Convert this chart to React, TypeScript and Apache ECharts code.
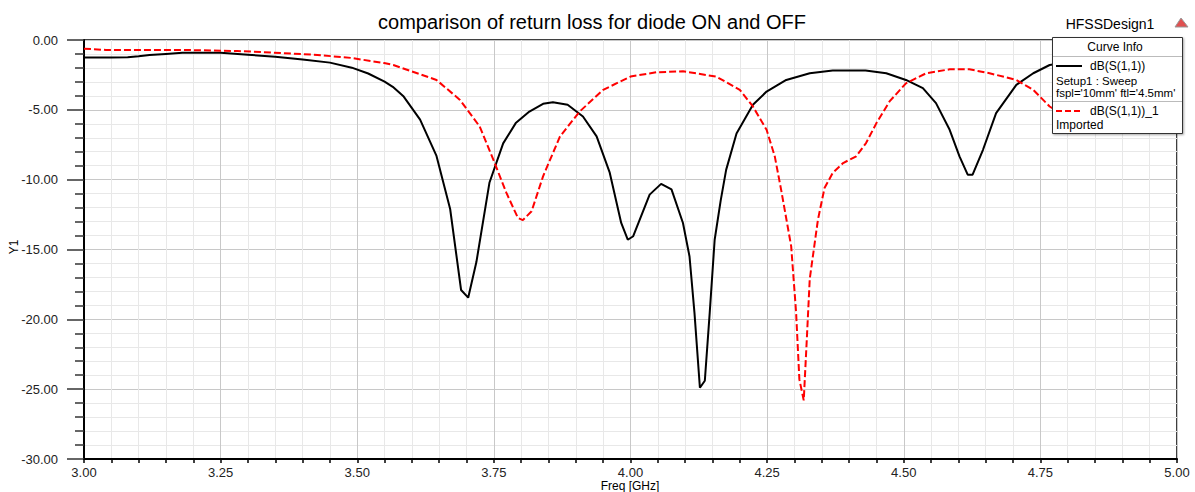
import React, { useEffect, useRef } from "react";
import * as echarts from "echarts";

const TITLE = "comparison of return loss for diode ON and OFF";
const X_NAME = "Freq [GHz]";
const Y_NAME = "Y1";

// Diode ON: dB(S(1,1)), Setup1 : Sweep
const onFreq = [
  3.0, 3.05, 3.08, 3.1, 3.12, 3.15, 3.18, 3.25, 3.3, 3.35, 3.4, 3.45, 3.49, 3.52, 3.55, 3.565, 3.585,
  3.615, 3.645, 3.67, 3.69, 3.703, 3.718, 3.742, 3.767, 3.79, 3.815, 3.84, 3.858, 3.885, 3.913,
  3.938, 3.962, 3.983, 3.995, 4.005, 4.035, 4.056, 4.075, 4.096, 4.108, 4.117, 4.127, 4.136,
  4.145, 4.154, 4.165, 4.175, 4.194, 4.224, 4.249, 4.285, 4.328, 4.37, 4.43, 4.468, 4.504,
  4.535, 4.559, 4.584, 4.602, 4.617, 4.626, 4.645, 4.669, 4.706, 4.737, 4.767, 4.8, 4.85, 4.9,
  4.95, 5.0,
];
const onDb = [
  -1.26, -1.26, -1.24, -1.17, -1.08, -1.0, -0.92, -0.92, -1.05, -1.2, -1.4, -1.62, -1.98, -2.4,
  -2.98, -3.35, -4.05, -5.7, -8.3, -12.1, -17.9, -18.45, -15.9, -10.2, -7.4, -5.95, -5.12, -4.57,
  -4.45, -4.64, -5.48, -6.9, -9.5, -13.1, -14.3, -14.05, -11.07, -10.3, -10.7, -13.1, -15.5,
  -19.5, -24.9, -24.4, -19.5, -14.3, -11.5, -9.3, -6.7, -4.64, -3.69, -2.86, -2.38, -2.19,
  -2.19, -2.38, -2.86, -3.45, -4.52, -6.43, -8.33, -9.64, -9.64, -7.86, -5.24, -3.21, -2.38,
  -1.79, -1.6, -1.5, -1.5, -1.55, -1.6,
];

// Diode OFF: dB(S(1,1))_1, Imported
const offFreq = [
  3.0, 3.04, 3.18, 3.28, 3.305, 3.366, 3.427, 3.488, 3.549, 3.566, 3.645, 3.688, 3.724, 3.749,
  3.773, 3.794, 3.803, 3.819, 3.84, 3.871, 3.907, 3.95, 4.0, 4.047, 4.096, 4.157, 4.2, 4.224,
  4.249, 4.264, 4.276, 4.294, 4.303, 4.309, 4.317, 4.322, 4.328, 4.343, 4.355, 4.37, 4.389,
  4.413, 4.431, 4.45, 4.474, 4.504, 4.541, 4.584, 4.62, 4.657, 4.706, 4.737, 4.767, 4.8, 4.85,
  4.9, 4.95, 5.0,
];
const offDb = [
  -0.62, -0.71, -0.71, -0.79, -0.83, -0.95, -1.07, -1.28, -1.65, -1.79, -2.86, -4.29, -6.19,
  -8.57, -10.95, -12.74, -12.9, -12.26, -9.76, -6.9, -5.12, -3.57, -2.62, -2.31, -2.24, -2.62,
  -3.57, -4.76, -6.43, -8.33, -10.8, -14.76, -19.5, -24.3, -25.8, -21.9, -17.1, -12.86, -10.6,
  -9.52, -8.81, -8.33, -7.38, -5.95, -4.4, -3.1, -2.38, -2.1, -2.1, -2.38, -2.86, -3.57, -4.76,
  -5.6, -6.2, -6.0, -5.4, -4.8,
];

const legendOn = ["dB(S(1,1))", "Setup1 : Sweep", "fspl='10mm' ftl='4.5mm'"];
const legendOff = ["dB(S(1,1))_1", "Imported"];

const FONT = '"Liberation Sans", Arial, Helvetica, sans-serif';

export default function App() {
  const ref = useRef<HTMLDivElement>(null);

  useEffect(() => {
    if (!ref.current) return;
    const chart = echarts.init(ref.current, undefined, { renderer: "svg" });

    const onData = onFreq.map((f, i) => [f, onDb[i]]);
    const offData = offFreq.map((f, i) => [f, offDb[i]]);

    const txt = (
      text: string,
      x: number,
      y: number,
      size: number,
      align: string = "left",
      rotation: number = 0
    ) => ({
      type: "text",
      x,
      y,
      rotation,
      z: 101,
      style: {
        text,
        font: `${size}px ${FONT}`,
        fill: "#000",
        textAlign: align,
        textVerticalAlign: "middle",
        verticalAlign: "middle",
        lineHeight: size,
      },
    });

    chart.setOption({
      animation: false,
      backgroundColor: "#fff",
      textStyle: { fontFamily: FONT },
      grid: {
        left: 84,
        right: 18,
        top: 40,
        bottom: 33,
        containLabel: false,
        outerBoundsMode: "none",
        show: true,
        borderColor: "#000",
        borderWidth: 1.5,
        backgroundColor: "transparent",
      },
      xAxis: {
        type: "value",
        min: 3,
        max: 5,
        interval: 0.25,
        axisLine: { show: true, onZero: false, lineStyle: { color: "#000", width: 2 } },
        axisTick: { show: true, inside: false, length: 4, lineStyle: { color: "#000", width: 1.5 } },
        minorTick: { show: true, splitNumber: 5, length: 4, lineStyle: { color: "#000", width: 1.5 } },
        axisLabel: {
          color: "#222",
          fontSize: 13,
          lineHeight: 13,
          fontFamily: FONT,
          margin: 7,
          formatter: (v: number) => v.toFixed(2),
        },
        splitLine: { show: true, lineStyle: { color: "#c8c8c8", width: 1 } },
        minorSplitLine: { show: true, lineStyle: { color: "#e8e8e8", width: 1 } },
      },
      yAxis: {
        type: "value",
        min: -30,
        max: 0,
        interval: 5,
        axisLine: { show: true, lineStyle: { color: "#000", width: 2 } },
        axisTick: { show: true, inside: false, length: 17, lineStyle: { color: "#333", width: 1.5 } },
        minorTick: { show: true, splitNumber: 5, length: 9, lineStyle: { color: "#333", width: 1.5 } },
        axisLabel: {
          color: "#222",
          fontSize: 13,
          fontFamily: FONT,
          margin: 26,
          formatter: (v: number) => v.toFixed(2),
        },
        splitLine: { show: true, lineStyle: { color: "#c8c8c8", width: 1 } },
        minorSplitLine: { show: true, lineStyle: { color: "#e8e8e8", width: 1 } },
      },
      series: [
        {
          name: "dB(S(1,1))",
          type: "line",
          data: onData,
          showSymbol: false,
          symbol: "none",
          lineStyle: { color: "#000", width: 2 },
          z: 3,
        },
        {
          name: "dB(S(1,1))_1",
          type: "line",
          data: offData,
          showSymbol: false,
          symbol: "none",
          lineStyle: { color: "#ff0000", width: 2, type: [7, 3] },
          z: 4,
        },
      ],
      graphic: [
        txt(TITLE, 592, 22, 20, "center"),
        txt(X_NAME, 630, 486, 12, "center"),
        txt(Y_NAME, 14, 247, 12, "center", Math.PI / 2),
        txt("HFSSDesign1", 1110, 24, 14, "center"),
        {
          type: "polygon",
          z: 101,
          shape: { points: [[1181, 18], [1175, 27], [1188, 27]] },
          style: { fill: "#e05050", stroke: "#999", lineWidth: 1 },
        },
        {
          type: "rect",
          z: 100,
          shape: { x: 1052.5, y: 37.5, width: 130, height: 96 },
          style: {
            fill: "#fff",
            stroke: "#333",
            lineWidth: 1,
            shadowBlur: 2,
            shadowOffsetX: 1,
            shadowOffsetY: 1,
            shadowColor: "rgba(0,0,0,0.35)",
          },
        },
        txt("Curve Info", 1115, 47, 12, "center"),
        {
          type: "line",
          z: 101,
          shape: { x1: 1053, y1: 56.5, x2: 1182, y2: 56.5 },
          style: { stroke: "#bbb", lineWidth: 1 },
        },
        {
          type: "line",
          z: 101,
          shape: { x1: 1056, y1: 66, x2: 1082, y2: 66 },
          style: { stroke: "#000", lineWidth: 2 },
        },
        txt(legendOn[0], 1090, 66, 12),
        txt(legendOn[1], 1056, 80.5, 11.5),
        txt(legendOn[2], 1056, 92.5, 11.5),
        {
          type: "line",
          z: 101,
          shape: { x1: 1053, y1: 101.5, x2: 1182, y2: 101.5 },
          style: { stroke: "#bbb", lineWidth: 1 },
        },
        {
          type: "line",
          z: 101,
          shape: { x1: 1056, y1: 111, x2: 1082, y2: 111 },
          style: { stroke: "#ff0000", lineWidth: 2, lineDash: [6, 3] },
        },
        txt(legendOff[0], 1090, 111, 12),
        txt(legendOff[1], 1056, 125, 12),
      ],
    });

    return () => chart.dispose();
  }, []);

  return (
    <div
      ref={ref}
      style={{ position: "absolute", left: 0, top: 0, width: 1195, height: 492 }}
    />
  );
}
